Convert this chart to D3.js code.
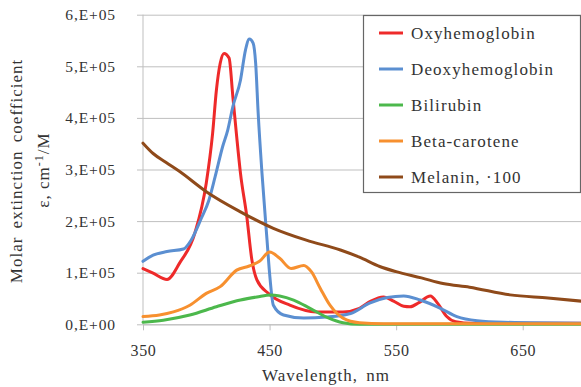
<!DOCTYPE html>
<html>
<head>
<meta charset="utf-8">
<script src="https://cdn.jsdelivr.net/npm/d3@7"></script>
<style>
  html, body { margin: 0; padding: 0; background: #fff; }
  svg { display: block; }
  svg text { font-family: "Liberation Serif", "DejaVu Serif", serif; fill: #333; }
</style>
</head>
<body>
<svg id="chart" width="581" height="387"></svg>
<script>
// Wavelength samples (nm) and molar extinction values (cm^-1/M) per chromophore
const oxyWl = [350, 358, 369, 379, 391, 400, 405, 408, 411, 414, 418, 421, 424, 427, 432, 436, 440, 449, 466, 487, 508, 521, 530, 540, 548, 556, 561, 568, 577, 583, 590, 597, 610, 650, 700];
const oxyVal = [108000, 99000, 87000, 119000, 177000, 274000, 370000, 454000, 506000, 525000, 516000, 441000, 364000, 293000, 209000, 125000, 86000, 60000, 37000, 24000, 24000, 31000, 45000, 53000, 45000, 35000, 34000, 42000, 55000, 40000, 15000, 5000, 2000, 2000, 2000];

const deoxyWl = [350, 358, 369, 382, 388, 396, 402, 407, 413, 417, 421, 427, 431, 434, 437, 439, 441, 444, 448, 450, 453, 461, 477, 495, 514, 529, 543, 556, 569, 585, 598, 614, 635, 700];
const deoxyVal = [122000, 134000, 141000, 146000, 163000, 205000, 240000, 286000, 345000, 377000, 422000, 473000, 532000, 553000, 545000, 506000, 409000, 293000, 163000, 99000, 37000, 18000, 12000, 14000, 21000, 41000, 52000, 55000, 47000, 31000, 15000, 7000, 4000, 2000];

const biliWl = [350, 366, 387, 408, 427, 440, 451, 458, 469, 482, 495, 508, 521, 540, 700];
const biliVal = [4000, 8000, 18000, 34000, 47000, 53000, 57000, 55000, 47000, 31000, 14000, 3000, 0, 0, 0];

const caroteneWl = [350, 363, 374, 387, 400, 411, 424, 434, 442, 450, 458, 467, 477, 483, 490, 498, 508, 521, 540, 700];
const caroteneVal = [15000, 18000, 24000, 37000, 60000, 73000, 105000, 113000, 122000, 140000, 128000, 108000, 114000, 102000, 70000, 36000, 12000, 3000, 1000, 1000];

const melaninWl = [350, 358, 368, 379, 400, 427, 453, 479, 506, 521, 537, 550, 570, 587, 608, 640, 670, 700];
const melaninVal = [351000, 331000, 314000, 296000, 257000, 218000, 186000, 163000, 144000, 130000, 112000, 102000, 90000, 79000, 72000, 57000, 51000, 44000];

const seriesNames = ["Oxyhemoglobin", "Deoxyhemoglobin", "Bilirubin", "Beta-carotene", "Melanin, \u00b7100"];
const seriesColors = ["#ee2a2a", "#5b8fd1", "#4cb84c", "#f7902f", "#8f4a1a"];

const yTicks = [0, 100000, 200000, 300000, 400000, 500000, 600000];
const yTickLabels = ["0,E+00", "1,E+05", "2,E+05", "3,E+05", "4,E+05", "5,E+05", "6,E+05"];
const xTicks = [350, 450, 550, 650];

const series = [
  { wl: oxyWl, val: oxyVal },
  { wl: deoxyWl, val: deoxyVal },
  { wl: biliWl, val: biliVal },
  { wl: caroteneWl, val: caroteneVal },
  { wl: melaninWl, val: melaninVal }
].map((s, i) => ({
  name: seriesNames[i],
  color: seriesColors[i],
  points: s.wl.map((w, j) => [w, s.val[j]])
}));

const svg = d3.select("#chart");
const plotLeft = 143, plotRight = 586, plotTop = 14.7, plotBottom = 324.3;

const x = d3.scaleLinear().domain([350, 700]).range([plotLeft, plotRight]);
const y = d3.scaleLinear().domain([0, 600000]).range([plotBottom, plotTop]);

const gridColor = "#bfbfbf";

// horizontal gridlines with outward ticks
const yAxis = svg.append("g")
  .attr("transform", `translate(${plotLeft},0)`)
  .call(d3.axisLeft(y).tickValues(yTicks)
    .tickSize(-(plotRight - plotLeft)).tickSizeOuter(0)
    .tickFormat((d, i) => yTickLabels[i]));
yAxis.attr("font-family", null).attr("font-size", null);
yAxis.select(".domain").remove();
yAxis.selectAll(".tick line").attr("stroke", gridColor).attr("x1", -6);
yAxis.selectAll(".tick text")
  .attr("x", -27)
  .attr("font-size", 15.5)
  .attr("letter-spacing", 0.9);

// vertical axis line
svg.append("line")
  .attr("x1", plotLeft).attr("x2", plotLeft)
  .attr("y1", plotTop).attr("y2", plotBottom)
  .attr("stroke", gridColor);

// x axis with tick labels
const xAxis = svg.append("g")
  .attr("transform", `translate(0,${plotBottom})`)
  .call(d3.axisBottom(x).tickValues(xTicks).tickSize(6).tickSizeOuter(0).tickFormat(d3.format("d")));
xAxis.attr("font-family", null).attr("font-size", null);
xAxis.select(".domain").attr("stroke", gridColor);
xAxis.selectAll(".tick line").attr("stroke", gridColor);
xAxis.selectAll(".tick text")
  .attr("y", 20)
  .attr("font-size", 16)
  .attr("letter-spacing", 0.6);

// spectra
const line = d3.line()
  .x(d => x(d[0]))
  .y(d => y(d[1]))
  .curve(d3.curveMonotoneX);

svg.append("g").selectAll("path")
  .data(series)
  .join("path")
  .attr("d", d => line(d.points))
  .attr("fill", "none")
  .attr("stroke", d => d.color)
  .attr("stroke-width", 3)
  .attr("stroke-linejoin", "round")
  .attr("stroke-linecap", "round");

// axis titles
svg.append("text")
  .attr("transform", "translate(22,171) rotate(-90)")
  .attr("text-anchor", "middle")
  .attr("font-size", 17)
  .attr("letter-spacing", 1)
  .attr("word-spacing", 3)
  .text("Molar extinction coefficient");

const sub = svg.append("text")
  .attr("transform", "translate(49,170) rotate(-90)")
  .attr("text-anchor", "middle")
  .attr("font-size", 17)
  .attr("letter-spacing", 1);
sub.append("tspan").text("\u03b5, cm");
sub.append("tspan").attr("dy", -6).attr("font-size", 12).text("-1");
sub.append("tspan").attr("dy", 6).text("/M");

svg.append("text")
  .attr("x", 326)
  .attr("y", 381)
  .attr("text-anchor", "middle")
  .attr("font-size", 17)
  .attr("letter-spacing", 1)
  .attr("word-spacing", 3)
  .text("Wavelength, nm");

// legend
const legend = svg.append("g");
legend.append("rect")
  .attr("x", 363.5).attr("y", 15.5)
  .attr("width", 217).attr("height", 177)
  .attr("fill", "#fff")
  .attr("stroke", "#666")
  .attr("stroke-width", 1.2);

const rowY = d3.scalePoint().domain(seriesNames).range([33, 177]);
const rows = legend.selectAll("g.row")
  .data(series)
  .join("g")
  .attr("class", "row")
  .attr("transform", d => `translate(0,${rowY(d.name)})`);
rows.append("line")
  .attr("x1", 379).attr("x2", 403)
  .attr("stroke", d => d.color)
  .attr("stroke-width", 3);
rows.append("text")
  .attr("x", 411)
  .attr("dy", "0.35em")
  .attr("font-size", 17)
  .attr("letter-spacing", 1.1)
  .text(d => d.name);
</script>
</body>
</html>
